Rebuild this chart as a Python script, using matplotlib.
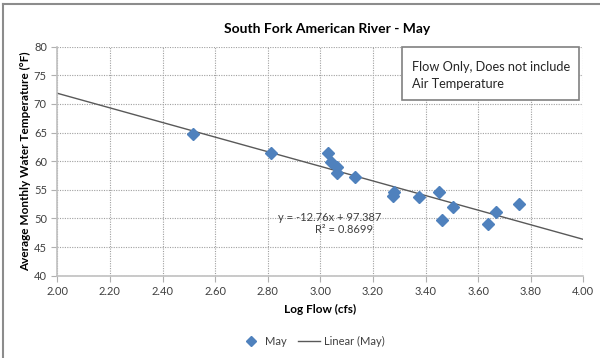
import matplotlib.pyplot as plt
from matplotlib.lines import Line2D
from matplotlib.patches import Rectangle

plt.rcParams['font.family'] = ['Lato', 'DejaVu Sans']

# log flow (cfs) vs average monthly water temperature, May
log_flow = [2.515, 2.812, 3.028, 3.040, 3.065, 3.062, 3.132, 3.279, 3.278,
            3.376, 3.452, 3.506, 3.461, 3.636, 3.667, 3.756]
temp_may = [64.7, 61.5, 61.4, 59.9, 58.9, 58.0, 57.3, 54.7, 54.0,
            53.8, 54.7, 52.0, 49.7, 49.1, 51.2, 52.6]

# linear fit as printed on the chart
slope = -12.76
intercept = 97.387
r2 = 0.8699

x_ticks = [2.00, 2.20, 2.40, 2.60, 2.80, 3.00, 3.20, 3.40, 3.60, 3.80, 4.00]
y_ticks = [40, 45, 50, 55, 60, 65, 70, 75, 80]

W, H = 600, 358
fig = plt.figure(figsize=(W / 100, H / 100), dpi=100)
ax = fig.add_axes([57.3 / W, 1 - 275.7 / H, (583.3 - 57.3) / W, (275.7 - 46.7) / H])

blue = '#4f81bd'
ax.plot(log_flow, temp_may, linestyle='none', marker='D', markersize=6.5,
        color=blue, zorder=3)
fit_x = [x_ticks[0], x_ticks[-1]]
fit_y = [slope * v + intercept for v in fit_x]
ax.plot(fit_x, fit_y, color='#595959', lw=1.0, zorder=2)

ax.set_xlim(2.0, 4.0)
ax.set_ylim(40, 80)
ax.set_xticks(x_ticks)
ax.set_yticks(y_ticks)
ax.set_xticklabels(['%.2f' % v for v in x_ticks])
ax.tick_params(axis='both', labelsize=8, colors='#404040', length=4,
               width=0.8)
ax.tick_params(axis='both', color='#b0b0b0')
ax.grid(True, color='#a0a0a0', linestyle=(0, (1, 1.2)), lw=0.8)
ax.set_axisbelow(True)
for s in ['top', 'right']:
    ax.spines[s].set_visible(False)
for s in ['left', 'bottom']:
    ax.spines[s].set_color('#c0c0c0')
    ax.spines[s].set_linewidth(1.2)

ax.set_xlabel('Log Flow (cfs)', fontsize=8.5, fontweight='bold', labelpad=5)
ax.set_ylabel('Average Monthly Water Temperature (°F)', fontsize=8.5,
              fontweight='bold', labelpad=2)
ax.set_title('South Fork American River - May', fontsize=10,
             fontweight='bold', pad=10, x=(326.7 - 57.3) / (583.3 - 57.3))

eq = 'y = %.2fx + %.3f' % (slope, intercept)
ax.text(3.037, 50.2, eq, fontsize=8, color='#404040', ha='center',
        va='center')
ax.text(3.092, 48.0, 'R² = %.4f' % r2, fontsize=8, color='#404040',
        ha='center', va='center')

# note box in the upper right corner
fig.patches.append(Rectangle((402 / W, 1 - 99.5 / H), 177 / W, 52.5 / H,
                             transform=fig.transFigure, facecolor='white',
                             edgecolor='#808080', lw=1.2, zorder=5))
fig.text(412 / W, 1 - 66.7 / H, 'Flow Only, Does not include', fontsize=9.2,
         color='#262626', va='center', zorder=6)
fig.text(412 / W, 1 - 84.0 / H, 'Air Temperature', fontsize=9.2,
         color='#262626', va='center', zorder=6)

handles = [Line2D([], [], linestyle='none', marker='D', markersize=5,
                  color=blue),
           Line2D([], [], color='#595959', lw=1.0)]
fig.legend(handles, ['May', 'Linear (May)'], loc='center',
           bbox_to_anchor=(312 / W, 1 - 341.7 / H), ncol=2, frameon=False,
           fontsize=8, handlelength=2.0, handletextpad=0.3,
           columnspacing=1.0, labelcolor='#404040')

# chart frame
fig.add_artist(Line2D([3 / W, 3 / W], [0, 1 - 4 / H], color='#8c8c8c',
                      lw=1.5, transform=fig.transFigure))
fig.add_artist(Line2D([3 / W, 1], [1 - 4 / H, 1 - 4 / H], color='#8c8c8c',
                      lw=1.5, transform=fig.transFigure))

fig.savefig('out.png', dpi=100)
